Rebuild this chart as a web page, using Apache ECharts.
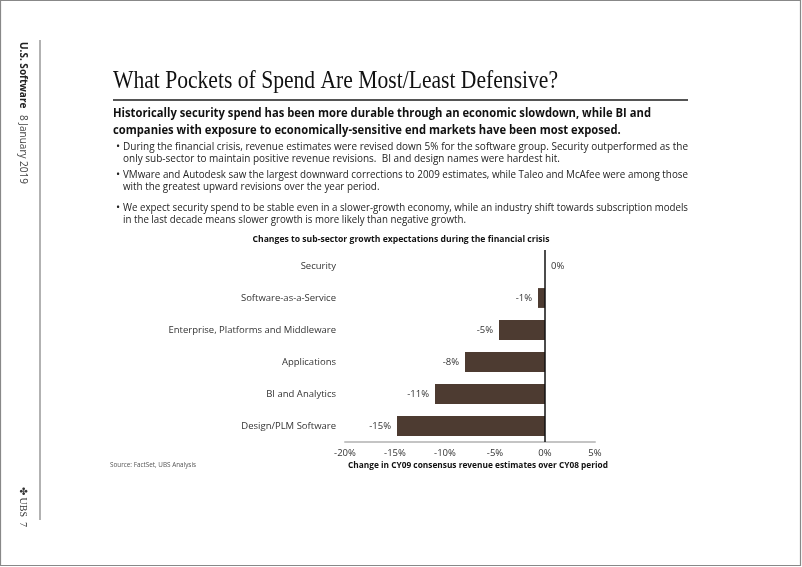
<!DOCTYPE html>
<html><head><meta charset="utf-8">
<script src="https://cdn.jsdelivr.net/npm/echarts@6/dist/echarts.min.js"></script>
<style>html,body{margin:0;padding:0;background:#fff}#c{width:802px;height:567px}</style>
</head><body><div id="c"></div>
<script>
const categories = ['Security','Software-as-a-Service','Enterprise, Platforms and Middleware','Applications','BI and Analytics','Design/PLM Software'];
const values = [0, -0.7, -4.6, -8.0, -11.0, -14.8];
const valueLabels = ['0%','-1%','-5%','-8%','-11%','-15%'];
const xTicks = {min: -20, max: 5, interval: 5};

const pageTitle = 'What Pockets of Spend Are Most/Least Defensive?';
const subtitleLines = ['Historically security spend has been more durable through an economic slowdown, while BI and','companies with exposure to economically-sensitive end markets have been most exposed.'];
const bullets = [
 ['During the financial crisis, revenue estimates were revised down 5% for the software group. Security outperformed as the','only sub-sector to maintain positive revenue revisions.  BI and design names were hardest hit.'],
 ['VMware and Autodesk saw the largest downward corrections to 2009 estimates, while Taleo and McAfee were among those','with the greatest upward revisions over the year period.'],
 ['We expect security spend to be stable even in a slower-growth economy, while an industry shift towards subscription models','in the last decade means slower growth is more likely than negative growth.']
];
const chartTitle = 'Changes to sub-sector growth expectations during the financial crisis';
const axisTitle = 'Change in CY09 consensus revenue estimates over CY08 period';
const sourceText = 'Source: FactSet, UBS Analysis';

const SANS = '"Open Sans", "Noto Sans", sans-serif';
const SERIF = '"Liberation Serif", serif';
const mctx = document.createElement('canvas').getContext('2d');
function fitScale(text, font, target){
  mctx.font = font;
  return target / mctx.measureText(text).width;
}

const subFont = 'bold 12.5px ' + SANS;
const subScale = fitScale(subtitleLines[0], subFont, 538);
const bulFont = '10px ' + SANS;
const bulScales = bullets.map(b=>Math.min(1, fitScale(b[0], bulFont, 565)));
const ctFont = 'bold 9.5px ' + SANS;
const ctScale = fitScale(chartTitle, ctFont, 297);
const atFont = 'bold 9.5px ' + SANS;
const atScale = fitScale(axisTitle, atFont, 260);
const srcFont = '7.5px ' + SANS;
const srcScale = fitScale(sourceText, srcFont, 86);
const titleFont = '25px ' + SERIF;
const titleScale = fitScale(pageTitle, titleFont, 445);

const chart = echarts.init(document.getElementById('c'), null, {renderer:'canvas'});

const graphics = [];
graphics.push({type:'rect', shape:{x:0.5,y:0.5,width:800,height:565}, style:{fill:'none',stroke:'#888',lineWidth:1.2}, silent:true});
graphics.push({type:'line', shape:{x1:40,y1:40,x2:40,y2:520}, style:{stroke:'#999',lineWidth:1.5}});
graphics.push({type:'text', x:23, y:42, rotation:-Math.PI/2, style:{text:'{b|U.S. Software}  {n|8 January 2019}', rich:{b:{fontFamily:SANS,fontWeight:'bold',fontSize:10,fill:'#222'}, n:{fontFamily:SANS,fontSize:10,fill:'#444'}}, verticalAlign:'middle'}});
graphics.push({type:'text', x:23, y:487, rotation:-Math.PI/2, style:{text:'✤ UBS  7', font:'10px ' + SERIF, fill:'#333', verticalAlign:'middle'}});
graphics.push({type:'text', x:113, y:81, scaleX:titleScale, style:{text:pageTitle, font:titleFont, fill:'#111', verticalAlign:'middle'}});
graphics.push({type:'line', shape:{x1:113,y1:100,x2:688,y2:100}, style:{stroke:'#555',lineWidth:2}});
subtitleLines.forEach((t,i)=>graphics.push({type:'text', x:113, y:113+i*17, scaleX:subScale, style:{text:t, font:subFont, fill:'#111', verticalAlign:'middle'}}));
const bulletY = [147,175,208];
bullets.forEach((lines,i)=>{
  graphics.push({type:'text', x:116, y:bulletY[i], style:{text:'•', font:'11px '+SANS, fill:'#222', verticalAlign:'middle'}});
  lines.forEach((t,j)=>graphics.push({type:'text', x:123, y:bulletY[i]+j*12.5, scaleX:bulScales[i], style:{text:t, font:bulFont, fill:'#222', verticalAlign:'middle'}}));
});
graphics.push({type:'text', x:401, y:239, scaleX:ctScale, style:{text:chartTitle, font:ctFont, fill:'#111', align:'center', verticalAlign:'middle'}});
graphics.push({type:'text', x:478, y:465, scaleX:atScale, style:{text:axisTitle, font:atFont, fill:'#111', align:'center', verticalAlign:'middle'}});
graphics.push({type:'text', x:110, y:465, scaleX:srcScale, style:{text:sourceText, font:srcFont, fill:'#555', verticalAlign:'middle'}});

chart.setOption({
  animation:false,
  backgroundColor:'#fff',
  grid:{left:345, right:207, top:250, bottom:125, containLabel:false},
  xAxis:{type:'value', min:xTicks.min, max:xTicks.max, interval:xTicks.interval,
    axisLine:{show:true, onZero:false, lineStyle:{color:'#c4c4c4', width:2}},
    axisTick:{show:false}, splitLine:{show:false},
    axisLabel:{formatter:'{value}%', color:'#333', fontSize:9.5, fontFamily:SANS, margin:6}},
  yAxis:{type:'category', data:categories, inverse:true,
    axisLine:{show:false}, axisTick:{show:false},
    axisLabel:{color:'#333', fontSize:9.5, fontFamily:SANS, margin:9}},
  series:[{type:'bar', barWidth:'62%', itemStyle:{color:'#4d3b31'},
    data: values.map((v,i)=>({value:v, label:{position: v>=0?'right':'left'}})),
    label:{show:true, distance:6, color:'#333', fontSize:9.5, fontFamily:SANS, formatter:p=>valueLabels[p.dataIndex]},
    markLine:{silent:true, symbol:'none', label:{show:false}, lineStyle:{color:'#111', width:1.5, type:'solid'}, data:[{xAxis:0}]}
  }],
  graphic:graphics
});
</script></body></html>
